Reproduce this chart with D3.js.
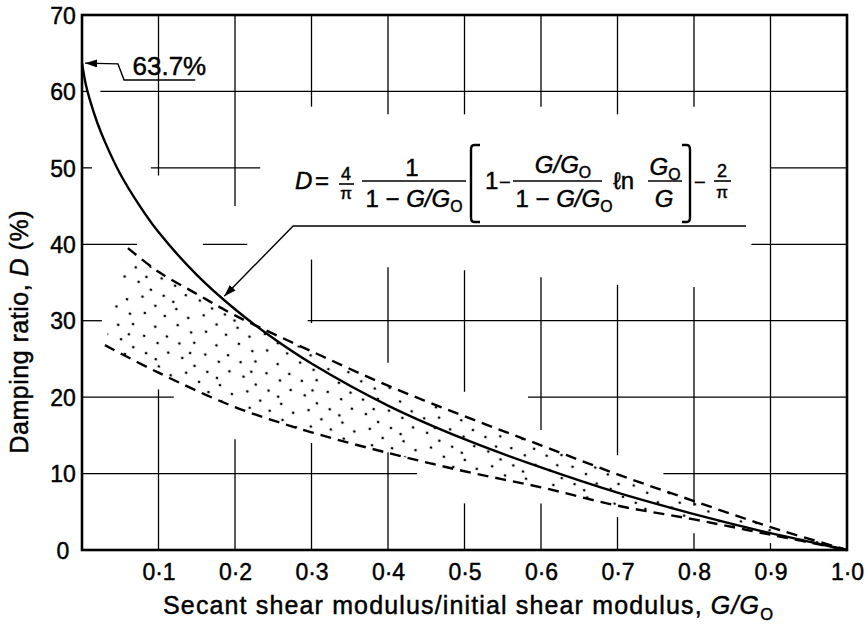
<!DOCTYPE html>
<html>
<head>
<meta charset="utf-8">
<script src="https://cdn.jsdelivr.net/npm/d3@7"></script>
<style>
  body { margin: 0; background: #fff; }
  svg { display: block; font-family: "Liberation Sans", Arial, sans-serif; }
  svg text { stroke: #000; stroke-width: 0.45px; fill: #000; }
</style>
</head>
<body>
<svg id="chart" width="868" height="624"></svg>
<script>
/* values */
const xTicks = [0.1, 0.2, 0.3, 0.4, 0.5, 0.6, 0.7, 0.8, 0.9, 1.0];
const yTicks = [0, 10, 20, 30, 40, 50, 60, 70];

// solid curve (closed-form damping curve)
const solidG = [0, 0.005, 0.01, 0.02, 0.03, 0.05, 0.075, 0.1, 0.15, 0.2, 0.25, 0.3, 0.4, 0.5, 0.6, 0.7, 0.8, 0.9, 0.95, 1.0];
const solidD = [63.7, 60.9, 59.0, 55.9, 53.4, 49.2, 45.1, 41.6, 36.0, 31.5, 27.7, 24.4, 18.9, 14.5, 10.8, 7.5, 4.7, 2.2, 1.1, 0];

// upper dashed bound of test data
const upperG = [0.06, 0.1, 0.15, 0.2, 0.3, 0.4, 0.5, 0.6, 0.7, 0.8, 0.9, 1.0];
const upperD = [39.5, 36.4, 33.5, 30.7, 26.0, 21.5, 17.5, 13.7, 9.9, 6.4, 3.0, 0];

// lower dashed bound
const lowerG = [0.03, 0.1, 0.2, 0.3, 0.4, 0.5, 0.6, 0.7, 0.8, 0.9, 1.0];
const lowerD = [26.8, 23.2, 18.7, 15.4, 12.7, 10.3, 8.2, 5.8, 4.0, 2.0, 0];

// broken grid of the drawing: horizontal [D, G from, G to], vertical [G, D from, D to]
const hGrid = [
  [60, 0, 0.008], [60, 0.024, 1],
  [50, 0, 0.013], [50, 0.09, 0.233], [50, 0.9, 1],
  [40, 0, 0.072], [40, 0.158, 0.216], [40, 0.875, 1],
  [30, 0, 0.026], [30, 0.295, 1],
  [20, 0, 0.12], [20, 0.583, 1],
  [10, 0, 0.438], [10, 0.76, 1]
];
const vGrid = [
  [0.1, 0, 21], [0.1, 49, 70],
  [0.2, 0, 14.5], [0.2, 45, 70],
  [0.3, 0, 14], [0.3, 29.7, 38], [0.3, 58, 70],
  [0.4, 0, 12.8], [0.4, 24.5, 37], [0.4, 57, 70],
  [0.5, 0, 6.1], [0.5, 20.7, 36.6], [0.5, 57, 70],
  [0.6, 0, 6.1], [0.6, 15.7, 35.7], [0.6, 58, 70],
  [0.7, 0, 4.3], [0.7, 12.4, 34.7], [0.7, 57, 70],
  [0.8, 0, 2.2], [0.8, 5.8, 34.4], [0.8, 58, 70],
  [0.9, 0, 0.9], [0.9, 3.6, 70]
];

// annotation leaders (data coords)
const peakLeader = [[0.148, 61.5], [0.055, 61.5], [0.047, 63.6], [0.004, 63.7]];
const formulaLeader = [[0.868, 42.4], [0.276, 42.4], [0.186, 33.2]];

const svg = d3.select("#chart");
const x = d3.scaleLinear().domain([0, 1]).range([82, 847]);
const y = d3.scaleLinear().domain([0, 70]).range([550, 15]);
const zip = (gs, ds) => gs.map((g, i) => [g, ds[i]]);

const defs = svg.append("defs");
// hand-placed irregular stipple tile
const pat = defs.append("pattern").attr("id", "dots")
  .attr("patternUnits", "userSpaceOnUse").attr("width", 64).attr("height", 60)
  .attr("patternTransform", "rotate(17)");
[[3, 4], [17, 9], [31, 2], [46, 7], [58, 14], [9, 19], [24, 22], [38, 17], [52, 27],
 [2, 33], [16, 36], [30, 31], [44, 39], [59, 42], [8, 48], [23, 49], [37, 53], [51, 55], [62, 58], [29, 42]]
  .forEach(([cx, cy]) =>
    pat.append("circle").attr("cx", cx).attr("cy", cy).attr("r", 1.35).attr("fill", "#000"));
defs.append("marker").attr("id", "arr").attr("markerUnits", "userSpaceOnUse")
  .attr("viewBox", "0 0 12 8").attr("refX", 12).attr("refY", 4)
  .attr("markerWidth", 12).attr("markerHeight", 8).attr("orient", "auto")
  .append("path").attr("d", "M0,0L12,4L0,8Z").attr("fill", "#000");

/* grid */
const grid = svg.append("g").attr("stroke", "#000").attr("stroke-width", 1.3);
grid.selectAll("line.h").data(hGrid).join("line").attr("class", "h")
  .attr("x1", (d) => x(d[1])).attr("x2", (d) => x(d[2]))
  .attr("y1", (d) => y(d[0])).attr("y2", (d) => y(d[0]));
grid.selectAll("line.v").data(vGrid).join("line").attr("class", "v")
  .attr("x1", (d) => x(d[0])).attr("x2", (d) => x(d[0]))
  .attr("y1", (d) => y(d[1])).attr("y2", (d) => y(d[2]));

/* stippled band between the dashed bounds */
const line = d3.line().x((d) => x(d[0])).y((d) => y(d[1])).curve(d3.curveCatmullRom.alpha(0.5));
const up = zip(upperG, upperD), lo = zip(lowerG, lowerD);
svg.append("path")
  .attr("d", line(up) + "L" + line(lo.slice().reverse()).slice(1) + "Z")
  .attr("fill", "url(#dots)");

svg.selectAll("path.bound").data([up, lo]).join("path").attr("class", "bound")
  .attr("d", line).attr("fill", "none").attr("stroke", "#000")
  .attr("stroke-width", 2.4).attr("stroke-dasharray", "11,7");

svg.append("path").attr("d", line(zip(solidG, solidD)))
  .attr("fill", "none").attr("stroke", "#000").attr("stroke-width", 2.4);

/* frame */
svg.append("rect").attr("x", x(0)).attr("y", y(70))
  .attr("width", x(1) - x(0)).attr("height", y(0) - y(70))
  .attr("fill", "none").attr("stroke", "#000").attr("stroke-width", 2.6);

/* axes */
const fmt = (v) => d3.format(".1f")(v).replace(".", "\u00b7");
const ax = svg.append("g").attr("transform", `translate(0,${y(0)})`)
  .call(d3.axisBottom(x).tickValues(xTicks).tickSize(0).tickFormat(fmt));
ax.select(".domain").remove();
ax.selectAll("text").attr("y", 30).attr("dy", 0)
  .attr("font-size", 23).attr("font-family", null).attr("fill", "#000");

const ay = svg.append("g").attr("transform", `translate(${x(0)},0)`)
  .call(d3.axisLeft(y).tickValues(yTicks).tickSize(0).tickFormat(d3.format("d")));
ay.select(".domain").remove();
ay.selectAll("text").attr("x", -19).attr("dy", "0.36em").attr("text-anchor", "middle")
  .attr("font-size", 23).attr("font-family", null).attr("fill", "#000");

/* rich text helper: parts = [text, italic?, sub?] */
function rich(g, px, py, parts, size, anchor) {
  const t = g.append("text").attr("x", px).attr("y", py)
    .attr("font-size", size).attr("text-anchor", anchor || "start");
  let shift = 0;
  parts.forEach(([s, it, sub]) => {
    const ts = t.append("tspan").text(s);
    if (it) ts.attr("font-style", "italic");
    const want = sub ? size * 0.22 : 0;
    if (want !== shift) { ts.attr("dy", want - shift); shift = want; }
    if (sub) ts.attr("font-size", size * 0.66);
  });
  return t;
}

const xt = rich(svg, 468, 614, [["Secant shear modulus/initial shear modulus, "], ["G/G", true], ["O", false, true]], 25, "middle");
xt.attr("textLength", 610).attr("lengthAdjust", "spacing");

const yt = rich(svg, 0, 0, [["Damping ratio, "], ["D", true], [" (%)"]], 25, "middle")
  .attr("transform", "translate(28,332) rotate(-90)");
yt.attr("textLength", 243).attr("lengthAdjust", "spacing");

/* 63.7% call-out */
const lp = d3.line().x((d) => x(d[0])).y((d) => y(d[1]));
svg.append("path").attr("d", lp(peakLeader)).attr("fill", "none")
  .attr("stroke", "#000").attr("stroke-width", 1.4).attr("marker-end", "url(#arr)");
rich(svg, x(0.066), y(62.1), [["63.7%"]], 26);

svg.append("path").attr("d", lp(formulaLeader)).attr("fill", "none")
  .attr("stroke", "#000").attr("stroke-width", 1.4).attr("marker-end", "url(#arr)");

/* formula */
const f = svg.append("g");
const bar = (x1, x2, yy) => f.append("line").attr("x1", x1).attr("x2", x2)
  .attr("y1", yy).attr("y2", yy).attr("stroke", "#000").attr("stroke-width", 1.6);
const GG = [["G/G", true], ["O", false, true]];

rich(f, 295, 189, [["D", true]], 24);
rich(f, 315, 189, [["="]], 24);
rich(f, 346, 180, [["4"]], 18, "middle");
bar(339, 354, 184);
rich(f, 346, 199, [["\u03c0"]], 17, "middle");

rich(f, 412, 176, [["1"]], 24, "middle");
bar(362, 466, 181);
rich(f, 414, 207, [["1 \u2212 "], ...GG], 24, "middle");

f.append("path").attr("d", "M480,145L474,145Q471,145 471,150L471,217Q471,222 474,222L480,222")
  .attr("fill", "none").attr("stroke", "#000").attr("stroke-width", 2.4);
rich(f, 485, 189, [["1"]], 24);
rich(f, 499, 189, [["\u2212"]], 20);
rich(f, 563, 173, GG, 24, "middle");
bar(513, 602, 181);
rich(f, 564, 207, [["1 \u2212 "], ...GG], 24, "middle");
rich(f, 613, 189, [["\u2113n"]], 24);
rich(f, 665, 175, [["G", true], ["O", false, true]], 24, "middle");
bar(648, 682, 181);
rich(f, 664, 207, [["G", true]], 24, "middle");
f.append("path").attr("d", "M682,145L687,145Q690,145 690,150L690,217Q690,222 687,222L682,222")
  .attr("fill", "none").attr("stroke", "#000").attr("stroke-width", 2.4);
rich(f, 694, 189, [["\u2212"]], 20);
rich(f, 722, 177, [["2"]], 18, "middle");
bar(714, 731, 181);
rich(f, 722, 198, [["\u03c0"]], 17, "middle");
</script>
</body>
</html>
